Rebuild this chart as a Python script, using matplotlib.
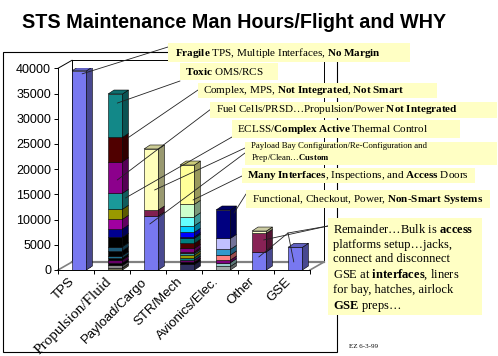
import numpy as np
import matplotlib
matplotlib.use('Agg')
import matplotlib.pyplot as plt
from matplotlib.patches import Polygon, Rectangle, ConnectionPatch
from matplotlib.colors import to_rgb

plt.rcParams['mathtext.fontset'] = 'custom'
plt.rcParams['mathtext.rm'] = 'Liberation Serif'
plt.rcParams['mathtext.bf'] = 'Liberation Serif:bold'
plt.rcParams['mathtext.it'] = 'Liberation Serif:italic'

# ---- data (man hours / flight), stacks listed bottom -> top ----
categories = ['TPS', 'Propulsion/Fluid', 'Payload/Cargo', 'STR/Mech',
              'Avionics/Elec.', 'Other', 'GSE']

tps_hours = [39500]
tps_colors = ['#7878F0']

prop_hours = [400, 500, 430, 650, 420, 440, 990, 790, 1860, 1650, 1920,
              1990, 3170, 6270, 4820, 8600]
prop_colors = ['#6E6E50', '#8A8A8A', '#000000', '#660066', '#000000',
               '#1E6E8C', '#000000', '#1E5A78', '#000000', '#000090',
               '#A000A0', '#999900', '#1A9999', '#8C008C', '#500000',
               '#128888']

payload_hours = [10700, 1200, 12100]
payload_colors = ['#7878F0', '#802050', '#FFFFBB']

str_hours = [1100, 430, 450, 460, 530, 340, 320, 670, 990, 1000, 310, 880,
             1300, 1790, 2460, 7790]
str_colors = ['#303060', '#000000', '#660066', '#008080', '#999900',
              '#339999', '#660033', '#800080', '#500000', '#008080',
              '#000080', '#0000FF', '#00CCFF', '#66FFFF', '#CCFFCC',
              '#FFFF99']

avionics_hours = [700, 750, 530, 990, 1130, 2180, 5620]
avionics_colors = ['#A0A8A8', '#99CCCC', '#800080', '#FF8080', '#3399CC',
                   '#C0C0FF', '#000080']

other_hours = [3630, 3640, 460]
other_colors = ['#7878F0', '#882255', '#FFFFCC']

gse_hours = [4500]
gse_colors = ['#7878F0']

stack_hours = [tps_hours, prop_hours, payload_hours, str_hours,
               avionics_hours, other_hours, gse_hours]
stack_colors = [tps_colors, prop_colors, payload_colors, str_colors,
                avionics_colors, other_colors, gse_colors]

title = 'STS Maintenance Man Hours/Flight and WHY'
notes = [
    r'$\mathbf{Fragile}$ TPS, Multiple Interfaces, $\mathbf{No\ Margin}$',
    r'$\mathbf{Toxic}$ OMS/RCS',
    r'Complex, MPS, $\mathbf{Not\ Integrated}$, $\mathbf{Not\ Smart}$',
    r'Fuel Cells/PRSD…Propulsion/Power $\mathbf{Not\ Integrated}$',
    r'ECLSS/$\mathbf{Complex\ Active}$ Thermal Control',
    'Payload Bay Configuration/Re-Configuration and\nPrep/Clean…$\\mathbf{Custom}$',
    r'$\mathbf{Many\ Interfaces}$, Inspections, and $\mathbf{Access}$ Doors',
    r'Functional, Checkout, Power, $\mathbf{Non}$-$\mathbf{Smart\ Systems}$',
    'Remainder…Bulk is $\\mathbf{access}$\nplatforms setup…jacks,\n'
    'connect and disconnect\nGSE at $\\mathbf{interfaces}$, liners\n'
    'for bay, hatches, airlock\n$\\mathbf{GSE}$ preps…',
]
footnote = 'EZ 6-3-99'

# ---- layout (pixels from top-left of the 498x356 image) ----
W, H = 498, 356
def fx(x):
    return x / W
def fy(y):
    return 1 - y / H

# box x0, y0, x1, y1, text x, text y(center), fontsize
note_layout = [
    (168, 43, 410, 62, 175, 52.5, 8),
    (180, 63, 278, 80, 185, 71.5, 8),
    (198, 83, 437, 98, 203, 90.5, 8),
    (210, 102, 497, 118, 216, 110, 8),
    (232, 120, 460, 138, 237, 129, 8),
    (245, 142, 497, 165, 250.5, 153.5, 6.3),
    (242, 168, 475, 183, 246.5, 175.7, 8),
    (246, 190, 490, 208, 251.5, 199, 8),
    (328, 218, 482, 315, 333, 268.5, 9),
]

# leader lines: start pixel, (bar index, value, fraction across front; >1 = side)
leaders = [
    ((168, 47), (0, 38900, 0.7)),
    ((180, 81), (1, 33100, 0.64)),
    ((198, 90), (1, 26200, 1.9)),
    ((211, 109), (1, 17850, 0.64)),
    ((232, 137), (1, 14280, 1.5)),
    ((245, 148), (2, 15860, 0.73)),
    ((245, 153), (2, 9120, 0.4)),
    ((242, 176), (3, 13880, 0.9)),
    ((246, 194), (4, 11300, 1.6)),
    ((328, 226), (5, 5950, 0.8)),
    ((288, 233), (5, 2580, 0.47)),
    ((288, 233), (6, 1590, 0.4)),
]

fig = plt.figure(figsize=(W / 100, H / 100), dpi=100)
fig.patch.set_facecolor('white')

ax_left, ax_right, ax_zero, ax_top = 58, 310, 270, 68.3
ax = fig.add_axes([fx(ax_left), fy(ax_zero), (ax_right - ax_left) / W,
                   (ax_zero - ax_top) / H])
ax.set_xlim(0, len(categories))
ax.set_ylim(0, 40000)
ax.patch.set_alpha(0)

px_per_cat = (ax_right - ax_left) / len(categories)
px_per_val = (ax_zero - ax_top) / 40000
floor_dx, floor_dy = 14 / px_per_cat, 8 / px_per_val
bar_dx, bar_dy = 6 / px_per_cat, 4 / px_per_val
BAR_W = 0.4
pos = np.arange(len(categories)) + 0.59

# walls and floor
top = 40000
kw = dict(color='black', lw=0.7, clip_on=False, zorder=1)
ax.plot([floor_dx, floor_dx], [floor_dy, top + floor_dy], **kw)
ax.plot([floor_dx, 7 + floor_dx], [top + floor_dy, top + floor_dy], **kw)
ax.plot([7 + floor_dx, 7 + floor_dx], [floor_dy, top + floor_dy], **kw)
ax.plot([0, floor_dx], [top, top + floor_dy], **kw)
ax.plot([0, floor_dx], [0, floor_dy], color='#808080', lw=1.2, clip_on=False, zorder=1)
ax.plot([floor_dx, 7 + floor_dx], [floor_dy, floor_dy], color='#808080', lw=1.6,
        clip_on=False, zorder=1)
ax.plot([7, 7 + floor_dx], [0, floor_dy], color='#808080', lw=1.2, clip_on=False, zorder=1)
ax.plot([(90 - ax_left) / px_per_cat] * 2, [600, 17850], color='#909090', lw=0.7, zorder=1)


def shade(c, f):
    r, g, b = to_rgb(c)
    return (r * f, g * f, b * f)


for i, (hours, colors) in enumerate(zip(stack_hours, stack_colors)):
    x0 = pos[i] - BAR_W / 2
    x1 = pos[i] + BAR_W / 2
    bottoms = np.concatenate([[0], np.cumsum(hours)[:-1]])
    ax.bar([pos[i]] * len(hours), hours, BAR_W, bottom=bottoms, color=colors,
           edgecolor='black', linewidth=0.4, zorder=3)
    for b, h, c in zip(bottoms, hours, colors):
        ax.add_patch(Polygon([(x1, b), (x1 + bar_dx, b + bar_dy),
                              (x1 + bar_dx, b + h + bar_dy), (x1, b + h)],
                             closed=True, facecolor=shade(c, 0.6),
                             edgecolor='black', lw=0.4, zorder=3))
    t = bottoms[-1] + hours[-1]
    ax.add_patch(Polygon([(x0, t), (x0 + bar_dx, t + bar_dy),
                          (x1 + bar_dx, t + bar_dy), (x1, t)], closed=True,
                         facecolor=shade(colors[-1], 0.8), edgecolor='black',
                         lw=0.4, zorder=3))

# axes styling
for s in ['top', 'right']:
    ax.spines[s].set_visible(False)
ax.spines['left'].set_linewidth(0.7)
ax.spines['bottom'].set_linewidth(0.7)
ax.set_yticks(np.arange(0, 40001, 5000))
ax.tick_params(axis='y', length=3, width=0.7, pad=2, labelsize=9)
for lab in ax.get_yticklabels():
    lab.set_fontfamily('Liberation Sans')
ax.set_xticks(np.arange(len(categories) + 1), minor=True)
ax.tick_params(axis='x', which='minor', length=3, width=0.7)
ax.set_xticks(np.arange(len(categories)) + 0.3)
ax.set_xticklabels(categories, rotation=45, ha='right', va='top',
                   rotation_mode='anchor', fontsize=9.5, family='Liberation Sans')
ax.tick_params(axis='x', which='major', length=0, pad=4)
ax.get_xticklabels()[1].set_fontfamily('Liberation Serif')
ax.get_xticklabels()[1].set_fontsize(11)

# outer frame
fig.patches.append(Rectangle((fx(3), fy(352)), (337 - 3) / W, (352 - 52) / H,
                             transform=fig.transFigure, fill=False,
                             edgecolor='black', lw=0.8, zorder=1))

# leader lines
for (sx, sy), (bi, val, frac) in leaders:
    if frac <= 1:
        xd = pos[bi] - BAR_W / 2 + frac * BAR_W
    else:
        xd = pos[bi] + BAR_W / 2 + (frac - 1) * bar_dx
    con = ConnectionPatch(xyA=(sx, H - sy), coordsA='figure pixels',
                          xyB=(xd, val), coordsB=ax.transData,
                          color='#222222', lw=0.6, zorder=4)
    fig.add_artist(con)
fig.add_artist(ConnectionPatch(xyA=(328, H - 226), coordsA='figure pixels',
                               xyB=(288, H - 233), coordsB='figure pixels',
                               color='#222222', lw=0.6, zorder=4))

# annotation boxes
for txt, (x0, y0, x1, y1, tx, ty, fs) in zip(notes, note_layout):
    fig.patches.append(Rectangle((fx(x0), fy(y1)), (x1 - x0) / W, (y1 - y0) / H,
                                 transform=fig.transFigure, facecolor='#FFFFC4',
                                 edgecolor='none', zorder=5))
    fig.text(fx(tx), fy(ty), txt, ha='left', va='center', fontsize=fs,
             family='Liberation Serif', zorder=6, linespacing=1.25)

fig.text(fx(22), fy(28), title, ha='left', va='baseline', fontsize=14.2,
         fontweight='bold', family='Liberation Sans')
fig.text(fx(349), fy(347), footnote, ha='left', va='center', fontsize=5,
         family='Liberation Serif')

fig.savefig('out.png', dpi=100)
